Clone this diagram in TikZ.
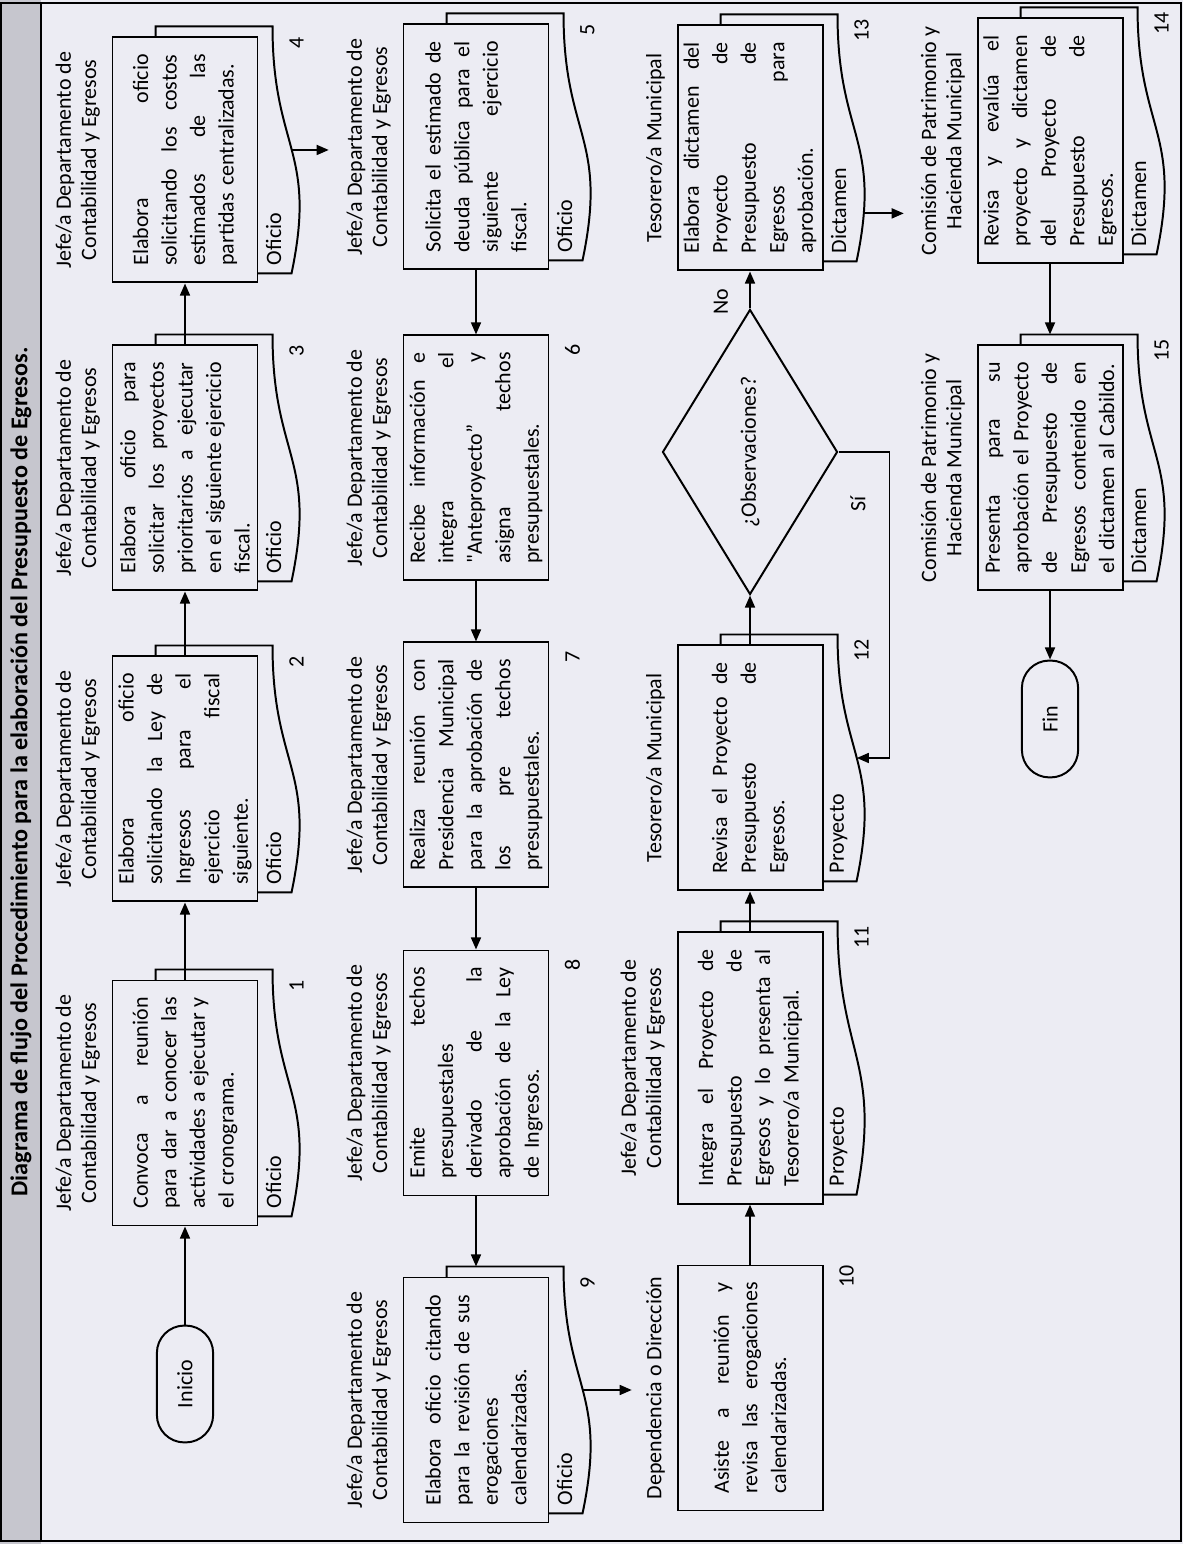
\documentclass[tikz,border=0pt]{standalone}
\usepackage{fontspec}
\setmainfont{Carlito}
\usetikzlibrary{positioning,calc,arrows.meta,shapes.geometric}

\definecolor{hoja}{RGB}{236,236,243}
\definecolor{franja}{RGB}{198,198,206}

\pgfdeclarelayer{fondo}
\pgfdeclarelayer{hojas}
\pgfsetlayers{fondo,hojas,main}

% renglon justificado
\newcommand{\jl}[1]{\makebox[33.8mm][s]{\spaceskip=\fontdimen2\font plus 1fil\relax #1}}
\newcommand{\jll}[1]{\makebox[37.9mm][s]{\spaceskip=\fontdimen2\font plus 1fil\relax #1}}
% hoja con borde ondulado detras de una caja
\newcommand{\documento}[4]{%
  \begin{pgfonlayer}{hojas}
    \coordinate (#2a) at ($(#1.north west)+(10,-44)$);
    \coordinate (#2b) at ($(#1.north east)+(10,-44)$);
    \draw[hojadoc] (#2a) -- (#2b) -- ($(#2b)+(0,-117)$)
      .. controls ($(#2a)!0.5!(#2b)+(0,-117)$) and ($(#2a)!0.5!(#2b)+(0,-162)$)
      .. ($(#2a)+(0,-136)$) coordinate[pos=0.5] (#2w) coordinate[pos=0.85] (#2v) -- cycle;
  \end{pgfonlayer}
  \node[etiq] (#2l) at ($(#2a)+(8,-118)$) {#3};
  \node[num] (#2n) at ($(#2b)+(-16,-141)$) {#4};
}

\begin{document}
\begin{tikzpicture}
        [rotate=90, transform shape, x=0.16mm, y=0.16mm,
        every node/.style={inner sep=0pt},
        paso/.style={draw, fill=hoja, line width=0.9pt, minimum width=39.2mm, minimum height=23.2mm,
                     text width=33.8mm, align=left, font=\fontsize{10}{13}\selectfont},
        term/.style={draw, fill=hoja, line width=0.9pt, rounded corners=4.4mm, minimum width=18.7mm,
                     minimum height=9mm, font=\fontsize{10}{13}\selectfont},
        decision/.style={diamond, draw, fill=hoja, line width=0.9pt, minimum width=45.6mm,
                     minimum height=28mm, font=\fontsize{10}{13}\selectfont},
        cargo/.style={align=center, font=\fontsize{10}{11.5}\selectfont},
        hojadoc/.style={draw, fill=hoja, line width=0.9pt},
        etiq/.style={anchor=west, font=\fontsize{10}{12}\selectfont},
        num/.style={font=\fontsize{10}{12}\selectfont},
        rotulo/.style={font=\fontsize{10}{12}\selectfont},
        flecha/.style={-{Triangle[length=5.5pt,width=4.5pt]}, line width=0.9pt}]
        \useasboundingbox (0,0) rectangle (1544,-1183);
        \begin{pgfonlayer}{fondo}
          \fill[hoja] (0,0) rectangle (1544,-1183);
          \fill[franja] (0,0) rectangle (1544,-41);
          \draw[line width=0.6pt] (3,-1) rectangle (1541,-1181);
          \draw[line width=0.6pt] (3,-41) -- (1541,-41);
        \end{pgfonlayer}
        \node[font=\bfseries\fontsize{11}{13}\selectfont] (titulo) at (772,-21)
          {Diagrama de flujo del Procedimiento para la elaboración del Presupuesto de Egresos.};

        % fila 1
        \node[term] (ini) at (160,-185) {Inicio};
        \node[paso] (p1) at (441,-185) {\jl{Convoca a reunión}\\\jl{para dar a conocer las}\\\jl{actividades a ejecutar y}\\el cronograma.};
        \node[paso] (p2) at (765,-185) {\jl{Elabora oficio}\\\jl{solicitando la Ley de}\\\jl{Ingresos para el}\\\jl{ejercicio fiscal}\\siguiente.};
        \node[paso] (p3) at (1076,-185) {\jl{Elabora oficio para}\\\jl{solicitar los proyectos}\\\jl{prioritarios a ejecutar}\\\jl{en el siguiente ejercicio}\\fiscal.};
        \node[paso] (p4) at (1384,-185) {\jl{Elabora oficio}\\\jl{solicitando los costos}\\\jl{estimados de las}\\partidas centralizadas.};
        \documento{p1}{d1}{Oficio}{1}
        \documento{p2}{d2}{Oficio}{2}
        \documento{p3}{d3}{Oficio}{3}
        \documento{p4}{d4}{Oficio}{4}
        \foreach \p in {1,2,3,4}
          \node[cargo, above=1.8mm of p\p] (c\p) {Jefe/a Departamento de\\Contabilidad y Egresos};

        % fila 2
        \node[paso] (p5) at (1397,-476) {\jl{Solicita el estimado de}\\\jl{deuda pública para el}\\\jl{siguiente ejercicio}\\fiscal.};
        \node[paso] (p6) at (1086,-476) {\jl{Recibe información e}\\\jl{integra el}\\\jl{\textquotedbl Anteproyecto” y}\\\jl{asigna techos}\\presupuestales.};
        \node[paso] (p7) at (779,-476) {\jl{Realiza reunión con}\\\jl{Presidencia Municipal}\\\jl{para la aprobación de}\\\jl{los pre techos}\\presupuestales.};
        \node[paso] (p8) at (471,-476) {\jl{Emite techos}\\presupuestales\\\jl{derivado de la}\\\jl{aprobación de la Ley}\\de Ingresos.};
        \node[paso] (p9) at (144,-476) {\jl{Elabora oficio citando}\\\jl{para la revisión de sus}\\erogaciones\\calendarizadas.};
        \documento{p5}{d5}{Oficio}{5}
        \documento{p9}{d9}{Oficio}{9}
        \node[num] (n6) at ($(p6.south east)+(-15,-23)$) {6};
        \node[num] (n7) at ($(p7.south east)+(-15,-23)$) {7};
        \node[num] (n8) at ($(p8.south east)+(-15,-23)$) {8};
        \foreach \p in {5,6,7,8,9}
          \node[cargo, above=1.8mm of p\p] (c\p) {Jefe/a Departamento de\\Contabilidad y Egresos};

        % fila 3
        \node[paso] (p10) at (156,-750) {\jl{Asiste a reunión y}\\\jl{revisa las erogaciones}\\calendarizadas.};
        \node[paso, minimum width=43.4mm, text width=37.9mm] (p11) at (476,-750) {\jll{Integra el Proyecto de}\\\jll{Presupuesto de}\\\jll{Egresos y lo presenta al}\\Tesorero/a Municipal.};
        \node[paso] (p12) at (776,-750) {\jl{Revisa el Proyecto de}\\\jl{Presupuesto de}\\Egresos.};
        \node[decision] (dec) at (1092,-750) {¿Observaciones?};
        \node[paso] (p13) at (1396,-750) {\jl{Elabora dictamen del}\\\jl{Proyecto de}\\\jl{Presupuesto de}\\\jl{Egresos para}\\aprobación.};
        \documento{p11}{d11}{Proyecto}{11}
        \documento{p12}{d12}{Proyecto}{12}
        \documento{p13}{d13}{Dictamen}{13}
        \node[num] (n10) at ($(p10.south east)+(-12,-23)$) {10};
        \node[cargo, above=1.8mm of p10] (c10) {Dependencia o Dirección};
        \node[cargo, above=1.8mm of p11] (c11) {Jefe/a Departamento de\\Contabilidad y Egresos};
        \node[cargo, above=1.8mm of p12] (c12) {Tesorero/a Municipal};
        \node[cargo, above=1.8mm of p13] (c13) {Tesorero/a Municipal};

        % fila 4
        \node[paso] (p14) at (1403,-1050) {\jl{Revisa y evalúa el}\\\jl{proyecto y dictamen}\\\jl{del Proyecto de}\\\jl{Presupuesto de}\\Egresos.};
        \node[paso] (p15) at (1076,-1050) {\jl{Presenta para su}\\\jl{aprobación el Proyecto}\\\jl{de Presupuesto de}\\\jl{Egresos contenido en}\\el dictamen al Cabildo.};
        \node[term] (fin) at (825,-1050) {Fin};
        \documento{p14}{d14}{Dictamen}{14}
        \documento{p15}{d15}{Dictamen}{15}
        \foreach \p in {14,15}
          \node[cargo, above=1.8mm of p\p] (c\p) {Comisión de Patrimonio y\\Hacienda Municipal};

        % conectores
        \coordinate (k4) at ($(d4w)+(0,-37)$);
        \coordinate (e9) at ($(p9.east)+(10,0)$);
        \coordinate (k9) at ($(d9w)+(0,-49)$);
        \coordinate (k13) at ($(d13v)+(0,-40)$);
        \coordinate (e15) at ($(p15.east)+(10,0)$);
        \coordinate (s1) at ($(dec.south)+(0,-51)$);
        \draw[flecha] (ini) -- (p1);
        \draw[flecha] (p1) -- (p2);
        \draw[flecha] (p2) -- (p3);
        \draw[flecha] (p3) -- (p4);
        \draw[flecha] (d4w) -- (k4);
        \draw[flecha] (p5) -- (p6);
        \draw[flecha] (p6) -- (p7);
        \draw[flecha] (p7) -- (p8);
        \draw[flecha] (p8) -- (e9);
        \draw[flecha] (d9w) -- (k9);
        \draw[flecha] (p10) -- (p11);
        \draw[flecha] (p11) -- (p12);
        \draw[flecha] (p12) -- (dec);
        \draw[flecha] (dec) -- (p13);
        \draw[flecha] (dec.south) -- (s1) -| (d12w);
        \draw[flecha] (d13v) -- (k13);
        \draw[flecha] (p14) -- (e15);
        \draw[flecha] (p15) -- (fin);
        \node[rotulo] (no) at (1242,-721) {No};
        \node[rotulo] (si) at (1040,-858) {Sí};
\end{tikzpicture}
\end{document}
